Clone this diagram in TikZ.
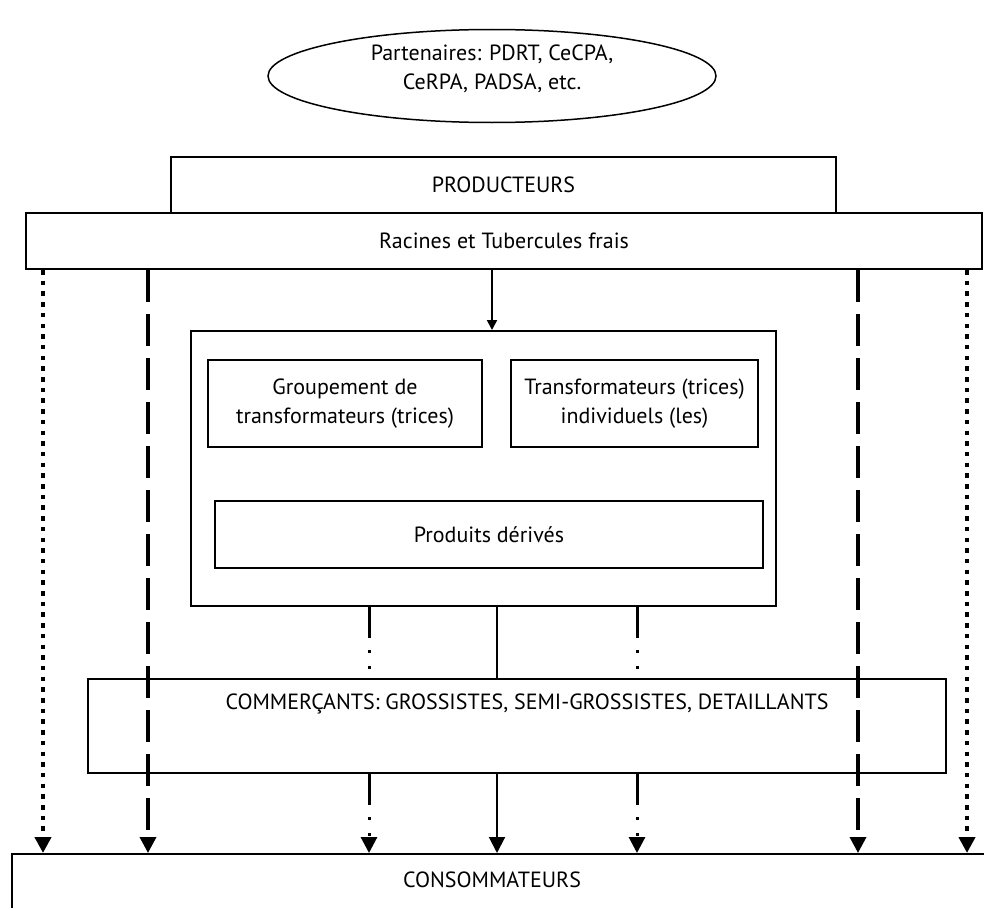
\documentclass[tikz,border=0pt]{standalone}
\usepackage{fontspec}
\setmainfont{PT Sans}
\usetikzlibrary{arrows.meta,shapes.geometric}

\begin{document}
\begin{tikzpicture}[x=1pt, y=-1pt, font=\fontsize{22}{29}\selectfont,
  box/.style={draw, line width=2pt, inner sep=0pt},
  pointilles/.style={line width=4.5pt, dash pattern=on 4.5pt off 6.2pt},
  tirets/.style={line width=3.5pt, dash pattern=on 32pt off 12pt},
  mixte/.style={line width=3pt, dash pattern=on 31pt off 12pt on 3pt off 13pt on 3pt off 13pt},
  plein/.style={line width=2pt},
  fleche/.style={-{Triangle[length=16pt,width=16pt]}},
  petitefleche/.style={-{Triangle[length=10pt,width=10pt]}}]
  \useasboundingbox (0,0) rectangle (984,907);
  \clip (0,0) rectangle (984,907);

  % partenaires
  \node[box, ellipse, line width=1.5pt, minimum width=448pt, minimum height=93pt] (part) at (492,76) {};
  \node[align=center] (parttxt) at (492,69) {Partenaires: PDRT, CeCPA,\\ CeRPA, PADSA, etc.};

  % producteurs
  \node[box, minimum width=665pt, minimum height=56pt] (prod) at (503.5,185) {PRODUCTEURS};
  \node[box, minimum width=956pt, minimum height=56pt] (racines) at (504,241) {Racines et Tubercules frais};

  % transformation
  \node[box, minimum width=585pt, minimum height=275pt] (transf) at (483.5,468.5) {};
  \node[box, align=center, minimum width=274pt, minimum height=87pt] (grp) at (345,403.5) {Groupement de\\ transformateurs (trices)};
  \node[box, align=center, minimum width=247pt, minimum height=87pt] (indiv) at (634.5,403.5) {Transformateurs (trices)\\ individuels (les)};
  \node[box, minimum width=548pt, minimum height=67pt] (derives) at (489,534.5) {Produits dérivés};

  % commercants et consommateurs
  \node[box, minimum width=858pt, minimum height=94pt] (comm) at (517,726) {};
  \node (commtxt) at (527,704) {COMMERÇANTS: GROSSISTES, SEMI-GROSSISTES, DETAILLANTS};
  \node[box, anchor=north west, minimum width=1000pt, minimum height=80pt] (conso) at (11,853) {};
  \node (consotxt) at (492,880) {CONSOMMATEURS};

  \path (43,0) coordinate (pg) (148,0) coordinate (tg) (369,0) coordinate (mg)
        (492,0) coordinate (centre) (497,0) coordinate (axe) (637,0) coordinate (md)
        (858,0) coordinate (td) (967,0) coordinate (pd);

  \draw[plein, petitefleche] (racines.south -| centre) -- (transf.north -| centre);

  \draw[pointilles, fleche] (racines.south -| pg) -- (conso.north -| pg);
  \draw[pointilles, fleche] (racines.south -| pd) -- (conso.north -| pd);
  \draw[tirets, fleche] (racines.south -| tg) -- (conso.north -| tg);
  \draw[tirets, fleche] (racines.south -| td) -- (conso.north -| td);

  \draw[mixte] (transf.south -| mg) -- (comm.north -| mg);
  \draw[mixte] (transf.south -| md) -- (comm.north -| md);
  \draw[plein] (transf.south -| axe) -- (comm.north -| axe);

  \draw[mixte, fleche] (comm.south -| mg) -- (conso.north -| mg);
  \draw[mixte, fleche] (comm.south -| md) -- (conso.north -| md);
  \draw[plein, fleche] (comm.south -| axe) -- (conso.north -| axe);
\end{tikzpicture}
\end{document}
